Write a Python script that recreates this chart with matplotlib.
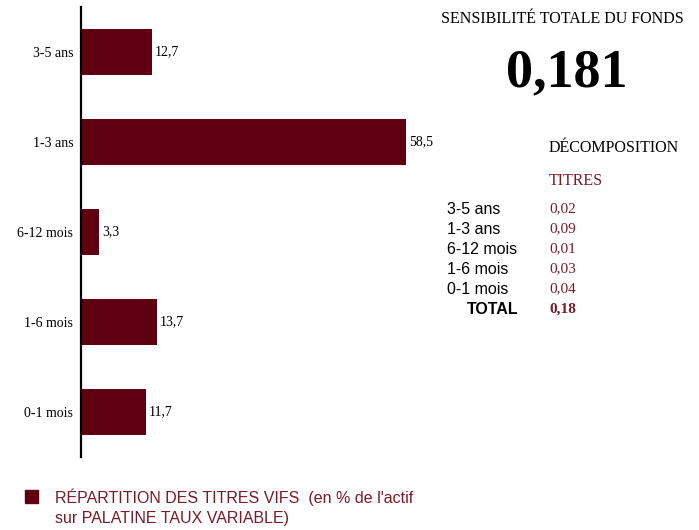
import matplotlib
matplotlib.use("Agg")
import matplotlib.pyplot as plt

# bar chart data
categories = ["3-5 ans", "1-3 ans", "6-12 mois", "1-6 mois", "0-1 mois"]
values = [12.7, 58.5, 3.3, 13.7, 11.7]
value_labels = ["12,7", "58,5", "3,3", "13,7", "11,7"]

# sensitivity table
total_sensitivity = "0,181"
table_labels = ["3-5 ans", "1-3 ans", "6-12 mois", "1-6 mois", "0-1 mois"]
table_values = ["0,02", "0,09", "0,01", "0,03", "0,04"]
table_total = "0,18"

BAR = "#5e000f"
RED_TXT = "#7a1a26"
SERIF = "Liberation Serif"
SANS = "Liberation Sans"

W, H = 699, 530
fig = plt.figure(figsize=(W / 100, H / 100), dpi=100)


def px(x, y):
    return x / W, 1 - y / H


# axes: left 81px, right 420px, top 7px, bottom 457px
ax = fig.add_axes([81 / W, 1 - 457 / H, (420 - 81) / W, 450 / H])
ypos = list(range(len(categories)))
ax.barh(ypos, values, height=0.51, color=BAR, left=0)
ax.set_ylim(len(categories) - 0.5, -0.5)
ax.set_xlim(0, 339 / (325 / 58.5))
for s in ["top", "right", "bottom"]:
    ax.spines[s].set_visible(False)
ax.spines["left"].set_linewidth(1.6)
ax.spines["left"].set_color("black")
ax.set_xticks([])
ax.set_yticks(ypos)
ax.set_yticklabels(categories, fontfamily=SERIF, fontsize=10)
ax.tick_params(axis="y", length=0, pad=5.5)
for i, (v, lab) in enumerate(zip(values, value_labels)):
    ax.annotate(lab, (v, i), xytext=(2, 0), textcoords="offset points",
                va="center", ha="left", fontfamily=SERIF, fontsize=10)

# right-hand panel
fig.text(*px(562, 19), "SENSIBILITÉ TOTALE DU FONDS", ha="center", va="center",
         fontfamily=SERIF, fontsize=11.5)
fig.text(*px(567, 73), total_sensitivity, ha="center", va="center",
         fontfamily=SERIF, fontsize=39, fontweight="bold")
fig.text(*px(549, 148), "DÉCOMPOSITION", ha="left", va="center",
         fontfamily=SERIF, fontsize=11.5)
fig.text(*px(549, 181), "TITRES", ha="left", va="center",
         fontfamily=SERIF, fontsize=11.5, color=RED_TXT)
for k, (lab, val) in enumerate(zip(table_labels, table_values)):
    y = 209 + 20 * k
    fig.text(*px(447, y), lab, ha="left", va="center", fontfamily=SANS, fontsize=11.5)
    fig.text(*px(549, y), val, ha="left", va="center", fontfamily=SERIF,
             fontsize=11, color=RED_TXT)
fig.text(*px(518, 309), "TOTAL", ha="right", va="center", fontfamily=SANS,
         fontsize=11.5, fontweight="bold")
fig.text(*px(549, 309), table_total, ha="left", va="center", fontfamily=SERIF,
         fontsize=11, fontweight="bold", color=RED_TXT)

# legend
fig.patches.append(plt.Rectangle(px(25, 503), 13 / W, 13 / H, color=BAR,
                                 transform=fig.transFigure, figure=fig))
fig.text(*px(55, 497), "RÉPARTITION DES TITRES VIFS  (en % de l'actif", ha="left",
         va="center", fontfamily=SANS, fontsize=11.5, color=RED_TXT)
fig.text(*px(55, 518), "sur PALATINE TAUX VARIABLE)", ha="left",
         va="center", fontfamily=SANS, fontsize=11.5, color=RED_TXT)

fig.savefig("out.png", dpi=100)
